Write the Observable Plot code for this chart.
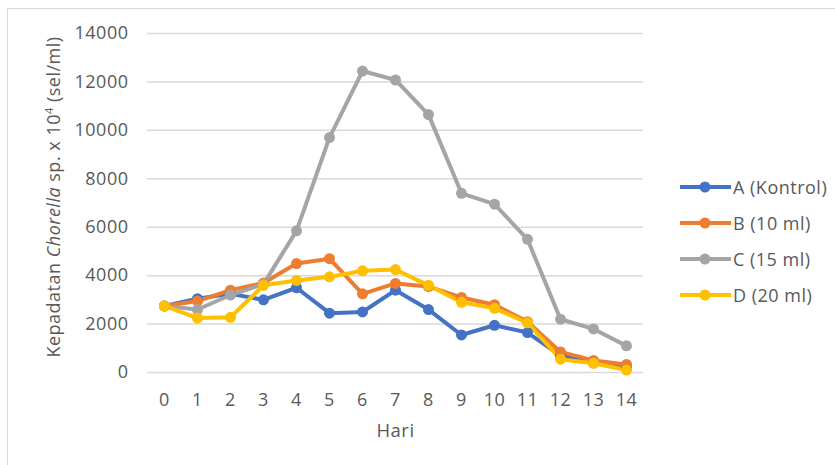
<!DOCTYPE html>
<html>
<head>
<meta charset="utf-8">
<script src="https://cdn.jsdelivr.net/npm/d3@7"></script>
<script src="https://cdn.jsdelivr.net/npm/@observablehq/plot@0.6"></script>
<style>
  html, body { margin: 0; padding: 0; background: #fff; }
  #wrap { position: relative; width: 835px; height: 465px; overflow: hidden; font-family: "Open Sans", sans-serif; }
  #frame { position: absolute; left: 7px; top: 8px; width: 840px; height: 470px; border-left: 1.5px solid #d9d9d9; border-top: 1.5px solid #d9d9d9; box-sizing: border-box; }
  #chart { position: absolute; left: 0; top: 0; }
  #legend { position: absolute; left: 680px; top: 168.6px; }
  .item { display: flex; align-items: center; height: 36.2px; font-size: 18px; letter-spacing: 0.5px; color: #595959; }
  .item svg { margin-right: 1px; }
</style>
</head>
<body>
<div id="wrap">
  <div id="frame"></div>
  <div id="chart"></div>
  <div id="legend"></div>
</div>
<script>
const days = [0,1,2,3,4,5,6,7,8,9,10,11,12,13,14];
const seriesNames = ["A (Kontrol)", "B (10 ml)", "C (15 ml)", "D (20 ml)"];
const colors = ["#4472C4", "#ED7D31", "#A5A5A5", "#FFC000"];
const valuesA = [2750, 3050, 3250, 3000, 3500, 2450, 2500, 3400, 2600, 1550, 1950, 1650, 700, 400, 200];
const valuesB = [2750, 2950, 3400, 3700, 4500, 4700, 3250, 3680, 3550, 3100, 2800, 2100, 850, 500, 330];
const valuesC = [2750, 2600, 3200, 3650, 5850, 9700, 12450, 12080, 10650, 7400, 6950, 5500, 2200, 1800, 1100];
const valuesD = [2750, 2250, 2280, 3600, 3800, 3950, 4200, 4250, 3600, 2900, 2650, 2050, 550, 380, 100];
const yTicks = [0, 2000, 4000, 6000, 8000, 10000, 12000, 14000];

const allValues = [valuesA, valuesB, valuesC, valuesD];
const data = [];
seriesNames.forEach((s, i) => days.forEach((d, j) => data.push({series: s, day: d, value: allValues[i][j]})));

const plot = Plot.plot({
  width: 835,
  height: 465,
  marginLeft: 147,
  marginRight: 192,
  marginTop: 33,
  marginBottom: 93,
  style: { fontFamily: "Open Sans, sans-serif", fontSize: "18px", color: "#595959", background: "transparent", overflow: "visible", letterSpacing: "0.5px" },
  x: { type: "point", domain: days, padding: 0.5, label: null },
  y: { domain: [0, 14000], label: null },
  color: { domain: seriesNames, range: colors },
  marks: [
    Plot.gridY(yTicks, { stroke: "#d9d9d9", strokeOpacity: 1, strokeWidth: 1.5 }),
    Plot.axisY(yTicks, { tickSize: 0, tickPadding: 19, fill: "#595959", fontSize: 18, label: null, tickFormat: d => String(d) }),
    Plot.axisX(days, { tickSize: 0, tickPadding: 21, fill: "#595959", fontSize: 18, label: null }),
    Plot.line(data, { x: "day", y: "value", z: "series", stroke: "series", strokeWidth: 4, curve: "linear" }),
    Plot.dot(data, { x: "day", y: "value", fill: "series", r: 5.5 }),
    Plot.text(["Hari"], { frameAnchor: "bottom", dy: 64, fontSize: 18.5, fill: "#595959" }),
    Plot.text(["Kepadatan "], { frameAnchor: "left", dx: -93, dy: -6, rotate: -90, fontSize: 18, fill: "#595959", text: d => d })
  ]
});

// Rich-text y label (italic species name, superscript exponent)
const svg = d3.select(plot);
svg.selectAll("text").filter(function() { return this.textContent === "Kepadatan "; }).each(function() {
  const t = d3.select(this);
  t.text(null);
  t.append("tspan").text("Kepadatan ");
  t.append("tspan").attr("font-style", "italic").text("Chorella");
  t.append("tspan").text(" sp. x 10");
  t.append("tspan").attr("font-size", "11").attr("dy", "-7").text("4");
  t.append("tspan").attr("dy", "7").text(" (sel/ml)");
  t.attr("text-anchor", "middle");
});
document.getElementById("chart").appendChild(plot);

// Legend
const legend = document.getElementById("legend");
seriesNames.forEach((s, i) => {
  const div = document.createElement("div");
  div.className = "item";
  div.innerHTML = `<svg width="52" height="14"><line x1="0" y1="7" x2="51" y2="7" stroke="${colors[i]}" stroke-width="4"/><circle cx="25" cy="7" r="5.5" fill="${colors[i]}"/></svg><span>${s}</span>`;
  legend.appendChild(div);
});
</script>
</body>
</html>
